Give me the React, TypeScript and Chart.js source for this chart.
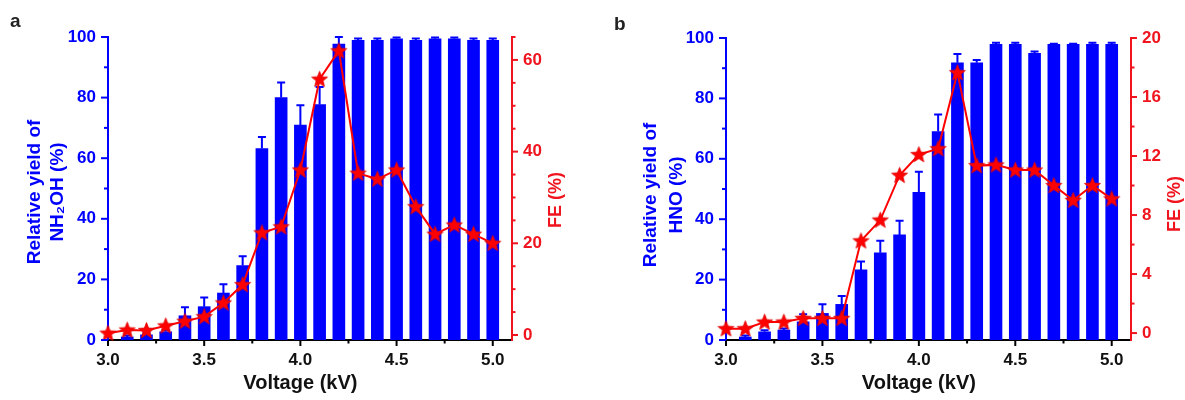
import React, { useEffect, useRef } from 'react';
import { Chart, registerables } from 'chart.js';

Chart.register(...registerables);

// ---------- data ----------
const barVoltages = [3.1, 3.2, 3.3, 3.4, 3.5, 3.6, 3.7, 3.8, 3.9, 4.0, 4.1, 4.2, 4.3, 4.4, 4.5, 4.6, 4.7, 4.8, 4.9, 5.0];
const feVoltages = [3.0, 3.1, 3.2, 3.3, 3.4, 3.5, 3.6, 3.7, 3.8, 3.9, 4.0, 4.1, 4.2, 4.3, 4.4, 4.5, 4.6, 4.7, 4.8, 4.9, 5.0];

// panel a: NH2OH
const yieldA = [1.0, 1.7, 2.7, 8.0, 11.0, 15.5, 24.6, 63.2, 80.0, 70.9, 77.7, 97.7, 98.9, 98.9, 99.4, 98.9, 99.4, 99.4, 98.9, 98.9];
const yieldErrA = [0.5, 0.5, 0.5, 2.8, 3.0, 2.9, 3.0, 3.8, 5.0, 6.6, 5.8, 2.3, 0.6, 0.6, 0.4, 0.6, 0.4, 0.4, 0.6, 0.6];
const feA = [0.4, 1.1, 1.0, 2.0, 3.0, 4.0, 7.0, 11.0, 22.3, 23.6, 36.0, 55.8, 62.0, 35.3, 34.0, 36.0, 28.0, 22.0, 24.0, 22.0, 20.0];

// panel b: HNO
const yieldB = [1.0, 2.7, 3.3, 6.0, 8.8, 11.8, 23.2, 28.9, 34.8, 48.9, 69.0, 91.8, 91.8, 97.9, 97.9, 94.9, 97.9, 97.9, 97.9, 97.9];
const yieldErrB = [0.5, 0.5, 0.5, 2.5, 3.0, 2.8, 2.8, 4.0, 4.7, 6.8, 5.7, 2.9, 0.9, 0.5, 0.5, 0.6, 0.2, 0.2, 0.5, 0.5];
const feB = [0.3, 0.3, 0.75, 0.75, 1.0, 1.0, 1.0, 6.25, 7.66, 10.7, 12.1, 12.5, 17.65, 11.35, 11.4, 11.05, 11.05, 10.0, 9.0, 10.0, 9.1];

// ticks
const xTickValues = [3.0, 3.25, 3.5, 3.75, 4.0, 4.25, 4.5, 4.75, 5.0];
const xTickLabels = [3.0, 3.5, 4.0, 4.5, 5.0];
const yieldTickValues = [0, 10, 20, 30, 40, 50, 60, 70, 80, 90, 100];
const yieldTickLabels = [0, 20, 40, 60, 80, 100];
const feTickValuesA = [0, 5, 10, 15, 20, 25, 30, 35, 40, 45, 50, 55, 60, 65];
const feTickLabelsA = [0, 20, 40, 60];
const feTickValuesB = [0, 2, 4, 6, 8, 10, 12, 14, 16, 18, 20];
const feTickLabelsB = [0, 4, 8, 12, 16, 20];

// ---------- styles ----------
const FONT = '"Liberation Sans", Arial, Helvetica, sans-serif';
const BLUE = '#0000ff';
const RED = '#ff0000';
const RED_TXT = '#f0141e';
const BLACK = '#111111';

type PanelCfg = {
  letter: string;
  letterX: number;
  letterY: number;
  yields: number[];
  errs: number[];
  fe: number[];
  feMin: number;
  feMax: number;
  feTicks: number[];
  feLabels: number[];
  leftW: number;
  rightW: number;
  top: number;
  leftTitle: string[];
  leftTitleX: number[];
  leftTitleY: number;
  feTitleX: number;
  feTitleY: number;
};

function makeStar(): HTMLCanvasElement {
  const c = document.createElement('canvas');
  c.width = 19;
  c.height = 19;
  const ctx = c.getContext('2d')!;
  const cx = 9.5, cy = 10;
  const R = 8.4, r = 3.6;
  ctx.beginPath();
  for (let i = 0; i < 10; i++) {
    const ang = -Math.PI / 2 + (i * Math.PI) / 5;
    const rad = i % 2 === 0 ? R : r;
    const px = cx + rad * Math.cos(ang);
    const py = cy + rad * Math.sin(ang);
    if (i === 0) ctx.moveTo(px, py);
    else ctx.lineTo(px, py);
  }
  ctx.closePath();
  ctx.fillStyle = RED;
  ctx.fill();
  ctx.strokeStyle = '#e00000';
  ctx.lineWidth = 0.8;
  ctx.stroke();
  return c;
}

function buildChart(canvas: HTMLCanvasElement, cfg: PanelCfg): Chart {
  const star = makeStar();

  const decor = {
    id: 'decor',
    afterDatasetDraw(chart: any, args: any) {
      if (args.index !== 1) return;
      const ctx = chart.ctx;
      const ys = chart.scales.y;
      ctx.save();
      ctx.strokeStyle = BLUE;
      ctx.lineWidth = 2;
      args.meta.data.forEach((el: any, i: number) => {
        const x = el.x;
        const yTop = el.y;
        const yErr = ys.getPixelForValue(cfg.yields[i] + cfg.errs[i]);
        ctx.beginPath();
        ctx.moveTo(x, yTop);
        ctx.lineTo(x, yErr);
        ctx.moveTo(x - 4, yErr);
        ctx.lineTo(x + 4, yErr);
        ctx.stroke();
      });
      ctx.restore();
    },
    afterDraw(chart: any) {
      const ctx = chart.ctx;
      const area = chart.chartArea;
      const xs = chart.scales.x;
      const ys = chart.scales.y;
      const y1 = chart.scales.y1;
      ctx.save();
      ctx.lineWidth = 2;
      // x tick marks
      ctx.strokeStyle = '#000';
      xTickValues.forEach((v) => {
        const px = xs.getPixelForValue(v);
        const len = xTickLabels.includes(v) ? 6 : 3.5;
        ctx.beginPath();
        ctx.moveTo(px, area.bottom);
        ctx.lineTo(px, area.bottom + len);
        ctx.stroke();
      });
      // left tick marks
      ctx.strokeStyle = BLUE;
      yieldTickValues.forEach((v) => {
        const py = ys.getPixelForValue(v);
        const len = yieldTickLabels.includes(v) ? 7 : 4;
        ctx.beginPath();
        ctx.moveTo(area.left, py);
        ctx.lineTo(area.left - len, py);
        ctx.stroke();
      });
      // right tick marks
      ctx.strokeStyle = RED_TXT;
      cfg.feTicks.forEach((v) => {
        const py = y1.getPixelForValue(v);
        const len = cfg.feLabels.includes(v) ? 6 : 3.5;
        ctx.beginPath();
        ctx.moveTo(area.right, py);
        ctx.lineTo(area.right + len, py);
        ctx.stroke();
      });

      // panel letter
      ctx.fillStyle = '#222';
      ctx.font = `bold 19px ${FONT}`;
      ctx.textAlign = 'left';
      ctx.textBaseline = 'alphabetic';
      ctx.fillText(cfg.letter, cfg.letterX, cfg.letterY);

      // left title
      ctx.fillStyle = BLUE;
      ctx.font = `bold 19px ${FONT}`;
      ctx.textAlign = 'center';
      ctx.textBaseline = 'middle';
      cfg.leftTitle.forEach((line, i) => {
        ctx.save();
        ctx.translate(cfg.leftTitleX[i], cfg.leftTitleY);
        ctx.rotate(-Math.PI / 2);
        ctx.fillText(line, 0, 0);
        ctx.restore();
      });

      // right title
      ctx.fillStyle = RED_TXT;
      ctx.font = `bold 18px ${FONT}`;
      ctx.save();
      ctx.translate(cfg.feTitleX, cfg.feTitleY);
      ctx.rotate(-Math.PI / 2);
      ctx.fillText('FE (%)', 0, 0);
      ctx.restore();

      // x title
      ctx.fillStyle = BLACK;
      ctx.font = `bold 20px ${FONT}`;
      ctx.textAlign = 'center';
      ctx.textBaseline = 'middle';
      const cx = (xs.getPixelForValue(3.0) + xs.getPixelForValue(5.0)) / 2;
      ctx.fillText('Voltage (kV)', cx, 383);
      ctx.restore();
    },
  };

  const tickFont = { family: FONT, size: 17, weight: 'bold' as const };

  return new Chart(canvas, {
    type: 'bar',
    data: {
      datasets: [
        {
          type: 'line',
          label: 'FE',
          data: feVoltages.map((x, i) => ({ x, y: cfg.fe[i] })),
          yAxisID: 'y1',
          borderColor: RED,
          borderWidth: 2,
          pointStyle: star as any,
          pointRadius: 9,
          order: 1,
          clip: false as any,
        } as any,
        {
          type: 'bar',
          label: 'Yield',
          data: barVoltages.map((x, i) => ({ x, y: cfg.yields[i] })),
          yAxisID: 'y',
          backgroundColor: BLUE,
          borderWidth: 0,
          barThickness: 12,
          order: 2,
        } as any,
      ],
    },
    options: {
      responsive: false,
      animation: false,
      devicePixelRatio: 1,
      layout: { padding: { top: cfg.top, left: 0, right: 0, bottom: 0 } },
      plugins: { legend: { display: false }, tooltip: { enabled: false }, title: { display: false } },
      scales: {
        x: {
          type: 'linear',
          min: 3.0,
          max: 5.1,
          offset: false,
          grid: { display: false, drawTicks: false },
          border: { display: true, color: '#000', width: 2 },
          ticks: {
            autoSkip: false,
            maxRotation: 0,
            padding: 10,
            color: BLACK,
            font: tickFont,
            callback: (v: any) => (xTickLabels.includes(Number(v)) ? Number(v).toFixed(1) : ''),
          },
          afterBuildTicks: (s: any) => {
            s.ticks = xTickValues.map((value) => ({ value }));
          },
          afterFit: (s: any) => {
            s.height = 60;
          },
        },
        y: {
          type: 'linear',
          position: 'left',
          min: 0,
          max: 100,
          grid: { display: false, drawTicks: false },
          border: { display: true, color: BLUE, width: 2 },
          ticks: {
            autoSkip: false,
            padding: 12,
            color: BLUE,
            font: tickFont,
            callback: (v: any) => (yieldTickLabels.includes(Number(v)) ? String(v) : ''),
          },
          afterBuildTicks: (s: any) => {
            s.ticks = yieldTickValues.map((value) => ({ value }));
          },
          afterFit: (s: any) => {
            s.width = cfg.leftW;
          },
        },
        y1: {
          type: 'linear',
          position: 'right',
          min: cfg.feMin,
          max: cfg.feMax,
          grid: { display: false, drawTicks: false },
          border: { display: true, color: RED_TXT, width: 2 },
          ticks: {
            autoSkip: false,
            padding: 11,
            color: RED_TXT,
            font: tickFont,
            callback: (v: any) => (cfg.feLabels.includes(Number(v)) ? String(v) : ''),
          },
          afterBuildTicks: (s: any) => {
            s.ticks = cfg.feTicks.map((value) => ({ value }));
          },
          afterFit: (s: any) => {
            s.width = cfg.rightW;
          },
        },
      },
    } as any,
    plugins: [decor as any],
  });
}

const panelA: PanelCfg = {
  letter: 'a',
  letterX: 10,
  letterY: 27,
  yields: yieldA,
  errs: yieldErrA,
  fe: feA,
  feMin: -1.09,
  feMax: 65,
  feTicks: feTickValuesA,
  feLabels: feTickLabelsA,
  leftW: 108,
  rightW: 80,
  top: 37,
  leftTitle: ['Relative yield of', 'NH\u2082OH (%)'],
  leftTitleX: [35, 58],
  leftTitleY: 192,
  feTitleX: 556,
  feTitleY: 200,
};

const panelB: PanelCfg = {
  letter: 'b',
  letterX: 22,
  letterY: 30,
  yields: yieldB,
  errs: yieldErrB,
  fe: feB,
  feMin: -0.47,
  feMax: 20,
  feTicks: feTickValuesB,
  feLabels: feTickLabelsB,
  leftW: 134,
  rightW: 54,
  top: 38,
  leftTitle: ['Relative yield of', 'HNO (%)'],
  leftTitleX: [59, 85],
  leftTitleY: 195,
  feTitleX: 583,
  feTitleY: 204,
};

export default function App() {
  const refA = useRef<HTMLCanvasElement>(null);
  const refB = useRef<HTMLCanvasElement>(null);

  useEffect(() => {
    const a = buildChart(refA.current!, panelA);
    const b = buildChart(refB.current!, panelB);
    return () => {
      a.destroy();
      b.destroy();
    };
  }, []);

  return (
    <div style={{ position: 'fixed', left: 0, top: 0, width: 1185, height: 400, background: '#fff' }}>
      <canvas ref={refA} width={592} height={400} style={{ position: 'absolute', left: 0, top: 0, width: 592, height: 400 }} />
      <canvas ref={refB} width={593} height={400} style={{ position: 'absolute', left: 592, top: 0, width: 593, height: 400 }} />
    </div>
  );
}
